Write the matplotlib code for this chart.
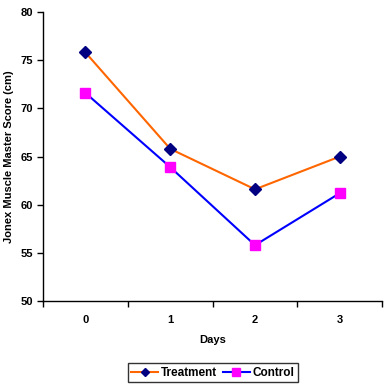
import matplotlib
matplotlib.use("Agg")
import matplotlib.pyplot as plt
from matplotlib.ticker import FixedLocator, NullFormatter, FixedFormatter

days = ["0", "1", "2", "3"]
treatment = [75.8, 65.8, 61.6, 65.0]
control = [71.6, 63.9, 55.8, 61.2]
yticks = [50, 55, 60, 65, 70, 75, 80]

plt.rcParams['font.family'] = ['Liberation Sans', 'DejaVu Sans']
plt.rcParams['font.weight'] = 'bold'

fig = plt.figure(figsize=(3.88, 3.88), dpi=100)
ax = fig.add_axes([0.111, 0.224, 0.874, 0.745])

x = list(range(len(days)))
ax.plot(x, treatment, color='#FF6600', lw=1.5, marker='D', ms=6,
        mfc='#000080', mec='#000080', label='Treatment')
ax.plot(x, control, color='#0000FF', lw=1.5, marker='s', ms=7,
        mfc='#FF00FF', mec='#FF00FF', label='Control')

ax.set_xlim(-0.5, len(days) - 0.5)
ax.set_ylim(50, 80)
ax.set_yticks(yticks)
ax.set_yticklabels([str(v) for v in yticks], fontsize=8, fontweight='bold')

ax.xaxis.set_major_locator(FixedLocator([i - 0.5 for i in range(len(days) + 1)]))
ax.xaxis.set_major_formatter(NullFormatter())
ax.xaxis.set_minor_locator(FixedLocator(x))
ax.xaxis.set_minor_formatter(FixedFormatter(days))
ax.tick_params(axis='x', which='minor', length=0, labelsize=8, pad=10)
ax.tick_params(axis='x', which='major', length=4, width=1, direction='out')
ax.tick_params(axis='y', length=4, width=1, direction='out', pad=3)
for lbl in ax.xaxis.get_minorticklabels():
    lbl.set_fontweight('bold')

ax.spines['top'].set_visible(False)
ax.spines['right'].set_visible(False)
ax.spines['left'].set_linewidth(1)
ax.spines['bottom'].set_linewidth(1)

ax.set_xlabel('Days', fontsize=8, fontweight='bold', labelpad=7)
ax.set_ylabel('Jonex Muscle Master Score (cm)', fontsize=8, fontweight='bold', labelpad=5)

leg = ax.legend(loc='upper center', bbox_to_anchor=(0.5, -0.195), ncol=2,
                frameon=True, fancybox=False, handlelength=2.3, markerscale=0.75,
                handletextpad=0.2, columnspacing=0.5, borderpad=0.3,
                edgecolor='black', prop={'weight': 'bold', 'size': 8.5})
leg.get_frame().set_linewidth(1)

fig.savefig('out.png', dpi=100)
